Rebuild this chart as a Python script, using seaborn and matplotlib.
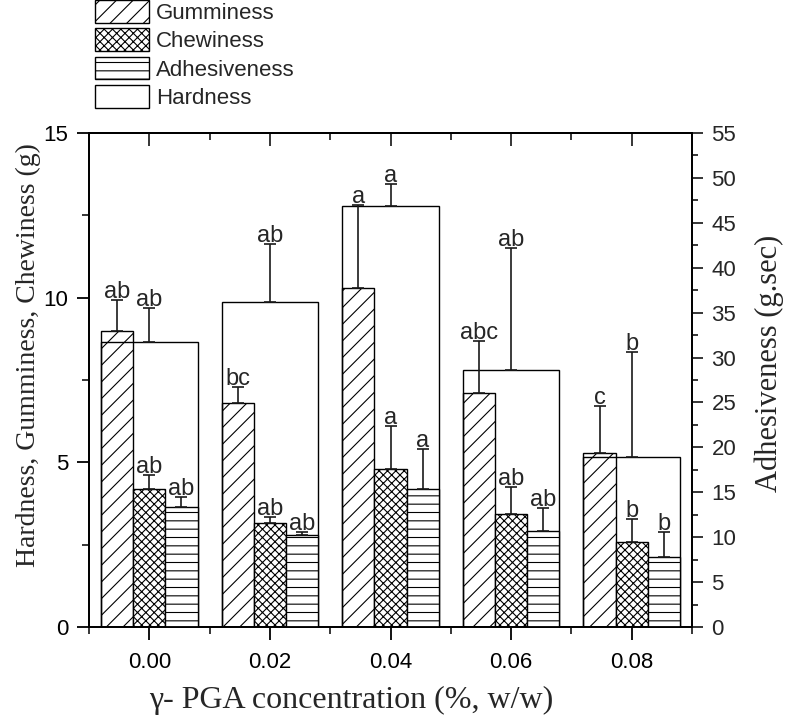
import numpy as np
import pandas as pd
import matplotlib
matplotlib.use("Agg")
import matplotlib.pyplot as plt
import seaborn as sns
from matplotlib.patches import Patch
from matplotlib.ticker import FixedLocator, MultipleLocator

# ---------------- data ----------------
concentrations = ["0.00", "0.02", "0.04", "0.06", "0.08"]
series_order = ["Gumminess", "Chewiness", "Adhesiveness"]

hardness = [8.65, 9.88, 12.77, 7.80, 5.17]
hardness_err = [1.04, 1.75, 0.68, 3.70, 3.17]
gumminess = [9.00, 6.81, 10.30, 7.12, 5.29]
gumminess_err = [0.93, 0.49, 2.50, 1.57, 1.42]
chewiness = [4.19, 3.17, 4.80, 3.43, 2.57]
chewiness_err = [0.43, 0.18, 1.30, 0.81, 0.70]
adhesiveness = [13.33, 10.20, 15.40, 10.72, 7.83]
adhesiveness_err = [1.17, 0.40, 4.40, 2.48, 2.72]

letters_hardness = ["ab", "ab", "a", "ab", "b"]
letters_gumminess = ["ab", "bc", "a", "abc", "c"]
letters_chewiness = ["ab", "ab", "a", "ab", "b"]
letters_adhesiveness = ["ab", "ab", "a", "ab", "b"]

hatches = {"Gumminess": "//", "Chewiness": "xxxx", "Adhesiveness": "--", "Hardness": ""}

# ---------------- style ----------------
sns.set_style("ticks")
plt.rcParams["font.family"] = ["Liberation Sans", "DejaVu Sans"]
plt.rcParams["hatch.linewidth"] = 0.8
plt.rcParams["hatch.color"] = "black"
FS = 16
FS_LETTER = 17
SERIF = ["Liberation Serif", "DejaVu Serif"]

fig = plt.figure(figsize=(7.86, 7.22), dpi=100)
ax = fig.add_axes([89 / 786, 1 - 627 / 722, (692 - 89) / 786, (627 - 133) / 722])
ax2 = ax.twinx()

err_kw = dict(fmt="none", ecolor="#1a1a1a", elinewidth=1.2, capsize=4, capthick=1.2, zorder=3)


def draw_err_letters(axis, xs, tops, errs, letters):
    axis.errorbar(xs, tops, yerr=[np.zeros(len(errs)), errs], **err_kw)
    for x, t, e, l in zip(xs, tops, errs, letters):
        axis.annotate(l, (x, t + e), xytext=(0, 1.5), textcoords="offset points",
                      ha="center", va="baseline", fontsize=FS_LETTER, zorder=4)


def draw_series(axis, name, values, errs, letters):
    df = pd.DataFrame({"conc": concentrations, "value": values, "series": name})
    before = len(axis.patches)
    sns.barplot(data=df, x="conc", y="value", hue="series", hue_order=series_order,
                order=concentrations, palette={s: "white" for s in series_order},
                saturation=1, width=0.8, gap=0, dodge=True, edgecolor="black",
                linewidth=1, errorbar=None, legend=False, ax=axis)
    new = [p for p in axis.patches[before:] if np.isfinite(p.get_height()) and p.get_width() > 0]
    new.sort(key=lambda p: p.get_x())
    xs, tops = [], []
    for p in new:
        p.set_hatch(hatches[name])
        xs.append(p.get_x() + p.get_width() / 2)
        tops.append(p.get_height())
    draw_err_letters(axis, xs, tops, errs, letters)


draw_series(ax, "Gumminess", gumminess, gumminess_err, letters_gumminess)
draw_series(ax, "Chewiness", chewiness, chewiness_err, letters_chewiness)

# hardness: wide open bar spanning the group
before = len(ax.patches)
sns.barplot(x=concentrations, y=hardness, order=concentrations, width=0.8, fill=False,
            color="black", linewidth=1, errorbar=None, ax=ax)
hp = sorted(ax.patches[before:], key=lambda p: p.get_x())
for p in hp:
    p.set_edgecolor("black")
    p.set_facecolor("none")
    p.set_zorder(2)
draw_err_letters(ax, [p.get_x() + p.get_width() / 2 for p in hp],
                 [p.get_height() for p in hp], hardness_err, letters_hardness)

draw_series(ax2, "Adhesiveness", adhesiveness, adhesiveness_err, letters_adhesiveness)

# ---------------- axes ----------------
ax.set_xlim(-0.5, len(concentrations) - 0.5)
ax.set_ylim(0, 15)
ax2.set_ylim(0, 55)

ax.set_yticks([0, 5, 10, 15])
ax.yaxis.set_minor_locator(MultipleLocator(2.5))
ax2.set_yticks(np.arange(0, 56, 5))
ax2.yaxis.set_minor_locator(MultipleLocator(2.5))
ax.set_xticks(range(len(concentrations)))
ax.set_xticklabels(concentrations)
ax.xaxis.set_minor_locator(FixedLocator(np.arange(-0.5, len(concentrations), 1.0)))

for a in (ax, ax2):
    for s in a.spines.values():
        s.set_visible(True)
        s.set_linewidth(1.3)
        s.set_color("black")

ax.tick_params(axis="both", which="major", direction="out", length=9, width=1.3,
               labelsize=FS, colors="black")
ax.tick_params(axis="both", which="minor", direction="out", length=5, width=1.3)
ax.tick_params(axis="y", which="major", pad=6)
ax.tick_params(axis="x", which="major", pad=9)
ax2.tick_params(axis="y", which="major", direction="out", length=8, width=1.3,
                labelsize=FS, pad=6)
ax2.tick_params(axis="y", which="minor", direction="out", length=4, width=1.3)

secax = ax.secondary_xaxis("top")
secax.set_xticks(range(len(concentrations)))
secax.set_xticklabels([])
secax.xaxis.set_minor_locator(FixedLocator(np.arange(-0.5, len(concentrations), 1.0)))
secax.tick_params(which="major", direction="in", length=9, width=1.3)
secax.tick_params(which="minor", direction="in", length=5, width=1.3)
secax.spines["top"].set_linewidth(1.3)

ax.set_xlabel("γ- PGA concentration (%, w/w)", family=SERIF, fontsize=23, labelpad=9)
ax.xaxis.label.set_x(0.435)
ax.set_ylabel("Hardness, Gumminess, Chewiness (g)", family=SERIF, fontsize=20, labelpad=2)
ax.yaxis.label.set_y(0.55)
ax2.set_ylabel("Adhesiveness (g.sec)", family=SERIF, fontsize=22, labelpad=13)
ax2.yaxis.label.set_y(0.534)

# ---------------- legend ----------------
legend_names = ["Gumminess", "Chewiness", "Adhesiveness", "Hardness"]
handles = [Patch(facecolor="white", edgecolor="black", linewidth=1, hatch=hatches[n])
           for n in legend_names]
fig.legend(handles, legend_names, loc="upper left", bbox_to_anchor=(95 / 786, 1.0),
           frameon=False, fontsize=FS, handlelength=2.45, handleheight=1.2,
           labelspacing=0.2, handletextpad=0.3, borderaxespad=0, borderpad=0)

fig.savefig("out.png", dpi=100)
